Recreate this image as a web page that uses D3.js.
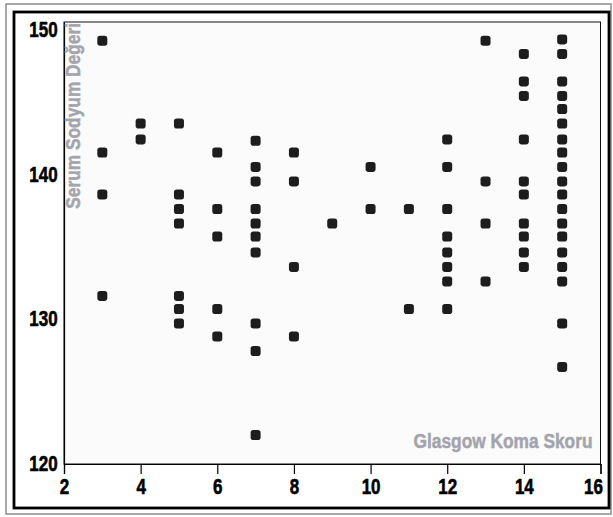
<!DOCTYPE html>
<html>
<head>
<meta charset="utf-8">
<script src="https://cdn.jsdelivr.net/npm/d3@7"></script>
<style>
  html, body { margin: 0; padding: 0; background: #ffffff; }
  svg { display: block; }
  .lbl { font-family: "Liberation Sans", Arial, sans-serif; font-weight: bold; }
</style>
</head>
<body>
<svg id="chart" width="613" height="517"></svg>
<script>
// ---- data ----
const xTickValues = [2, 4, 6, 8, 10, 12, 14, 16];
const yTickValues = [120, 130, 140, 150];
const xTitle = "Glasgow Koma Skoru";
const yTitle = "Serum Sodyum Değeri";

const gcs3  = [149.2, 141.5, 138.6, 131.6];
const gcs4  = [143.5, 142.4];
const gcs5  = [143.5, 138.6, 137.6, 136.6, 131.6, 130.7, 129.7];
const gcs6  = [141.5, 137.6, 135.7, 130.7, 128.8];
const gcs7  = [142.3, 140.5, 139.5, 137.6, 136.6, 135.7, 134.6, 129.7, 127.8, 122.0];
const gcs8  = [141.5, 139.5, 133.6, 128.8];
const gcs9  = [136.6];
const gcs10 = [140.5, 137.6];
const gcs11 = [137.6, 130.7];
const gcs12 = [142.4, 140.5, 137.6, 135.7, 134.6, 133.6, 132.6, 130.7];
const gcs13 = [149.2, 139.5, 136.6, 132.6];
const gcs14 = [148.3, 146.4, 145.4, 142.4, 139.5, 138.6, 136.6, 135.7, 134.6, 133.6];
const gcs15 = [149.3, 148.3, 146.4, 145.4, 144.5, 143.5, 142.4, 141.5, 140.5, 139.5, 138.6, 137.6, 136.6, 135.7, 134.6, 133.6, 132.6, 129.7, 126.7];

const gcsScores = [3, 4, 5, 6, 7, 8, 9, 10, 11, 12, 13, 14, 15];
const sodiumByScore = [gcs3, gcs4, gcs5, gcs6, gcs7, gcs8, gcs9, gcs10, gcs11, gcs12, gcs13, gcs14, gcs15];

const points = [];
gcsScores.forEach((g, i) => sodiumByScore[i].forEach(v => points.push({ gcs: g, sodium: v })));

// ---- layout ----
const svg = d3.select("#chart");
const mLeft = 64, mRight = 600.5, mTop = 22, mBottom = 464;
const narrow = 0.79;   // horizontal squeeze to imitate a condensed bold face
const narrowTitle = 0.845;
const fs = 21.5;
const fsTitle = 20.5;

const x = d3.scaleLinear().domain([2, 16]).range([mLeft, mRight]);
const y = d3.scaleLinear().domain([120, 150.5]).range([mBottom, mTop]);

// outer frames
svg.append("rect").attr("x", 6).attr("y", 4).attr("width", 605).attr("height", 510)
  .attr("fill", "none").attr("stroke", "#8c8c8c").attr("stroke-width", 1.5);
svg.append("rect").attr("x", 14).attr("y", 12).attr("width", 595).attr("height", 496)
  .attr("fill", "#ffffff").attr("stroke", "#000").attr("stroke-width", 2.8);

// plot area
svg.append("rect").attr("x", mLeft).attr("y", mTop).attr("width", mRight - mLeft).attr("height", mBottom - mTop)
  .attr("fill", "#fbfbfb").attr("stroke", "#111").attr("stroke-width", 1);

// x axis
const gx = svg.append("g").attr("transform", `translate(0,${mBottom})`)
  .call(d3.axisBottom(x).tickValues(xTickValues).tickFormat(d3.format("d")).tickSize(10).tickPadding(5));
gx.select(".domain").attr("stroke", "#000").attr("stroke-width", 1.2);
gx.selectAll(".tick line").attr("stroke", "#000").attr("stroke-width", 1.2);
gx.selectAll(".tick text").attr("class", "lbl").attr("font-size", fs).attr("fill", "#000")
  .attr("stroke", "#000").attr("stroke-width", 0.6)
  .attr("transform", `scale(${narrow},1)`);
gx.selectAll(".tick text").filter(d => d === xTickValues[xTickValues.length - 1])
  .attr("text-anchor", "end").attr("x", 2 / narrow);

// y axis
const gy = svg.append("g").attr("transform", `translate(${mLeft},0)`)
  .call(d3.axisLeft(y).tickValues(yTickValues).tickFormat(d3.format("d")).tickSize(0).tickPadding(8));
gy.select(".domain").attr("stroke", "#000").attr("stroke-width", 1.2);
gy.selectAll(".tick text").attr("class", "lbl").attr("font-size", fs).attr("fill", "#000")
  .attr("stroke", "#000").attr("stroke-width", 0.6)
  .attr("transform", `scale(${narrow},1)`);

// axis titles (inside plot)
svg.append("text").attr("class", "lbl")
  .attr("transform", `translate(${mLeft + 16},${mTop + 1}) rotate(-90) scale(${narrowTitle},1)`)
  .attr("text-anchor", "end").attr("font-size", fsTitle).attr("fill", "#a4a4ac")
  .attr("stroke", "#a4a4ac").attr("stroke-width", 0.5)
  .text(yTitle);
svg.append("text").attr("class", "lbl")
  .attr("transform", `translate(${mRight - 8},${mBottom - 16}) scale(${narrowTitle},1)`)
  .attr("text-anchor", "end").attr("font-size", fsTitle).attr("fill", "#a4a4ac")
  .attr("stroke", "#a4a4ac").attr("stroke-width", 0.5)
  .text(xTitle);

// points
const s = 10;
svg.append("g").selectAll("rect").data(points).join("rect")
  .attr("x", d => x(d.gcs) - s / 2)
  .attr("y", d => y(d.sodium) - s / 2)
  .attr("width", s).attr("height", s)
  .attr("rx", 2.8).attr("ry", 2.8)
  .attr("fill", "#1d1d1d");
</script>
</body>
</html>
